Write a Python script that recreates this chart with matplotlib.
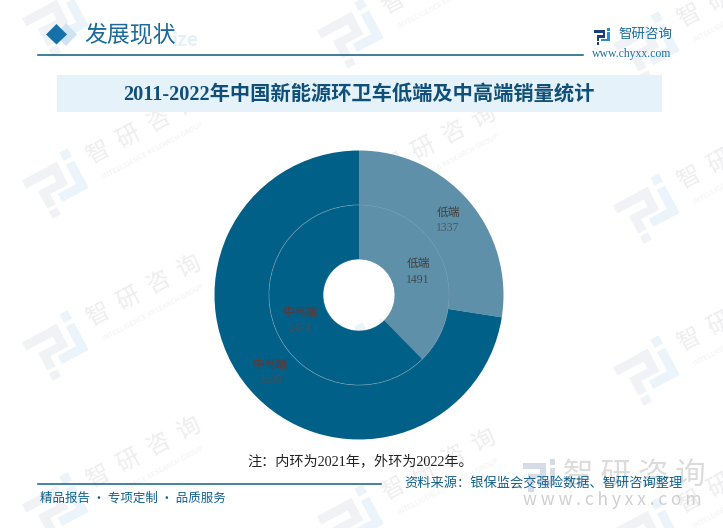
import matplotlib
matplotlib.use("Agg")
import matplotlib.pyplot as plt
from matplotlib.patches import Polygon, Rectangle
from matplotlib.transforms import Affine2D

plt.rcParams["font.family"] = ["Noto Sans CJK SC", "DejaVu Sans"]
SERIF = ["Liberation Serif", "Noto Sans CJK SC"]

# values
inner_labels = ["低端", "中高端"]
inner_values = [1491, 2471]
outer_labels = ["低端", "中高端"]
outer_values = [1337, 3530]

colors = ["#5f90a9", "#006088"]
W, H = 723, 528
cx, cy = 359, H - 295


def flip(y):
    return H - y


def logo(ax, x, y, grey="#f0f2f6", blue="#ebf4fa", angle=28, scale=1.0, z=0):
    # brand mark made of a few strokes, local coords in px around (x, y)
    grey_parts = [(-27, -14, 34, 8), (-1, -14, 8, 22), (-19, 1, 20, 7), (-19, 1, 8, 17), (-19, 21, 8, 7)]
    blue_parts = [(13, -20, 8, 8), (13, -8, 8, 26), (-5, 11, 26, 8)]
    tr = Affine2D().scale(scale).rotate_deg(angle).translate(x, flip(y)) + ax.transData
    for parts, col in [(grey_parts, grey), (blue_parts, blue)]:
        for px, py, w, h in parts:
            r = Rectangle((px, -py - h), w, h, fc=col, ec="none", zorder=z, transform=tr)
            ax.add_patch(r)


fig = plt.figure(figsize=(W / 100, H / 100), dpi=100)
ax = fig.add_axes([0, 0, 1, 1])

# faint watermark behind everything
for col_x, rows in [(57, [18, 180, 342, 504]), (352, [30, 192, 354, 516]), (648, [43, 205, 367, 529])]:
    for row_y in rows:
        logo(ax, col_x, row_y, scale=1.15)
        if row_y - 50 > -25:
            ax.text(col_x + 88, flip(row_y - 50), "智  研  咨  询", fontsize=17, color="#eeeef0", rotation=28,
                    ha="center", va="center", zorder=0, clip_on=True)
            ax.text(col_x + 96, flip(row_y - 29), "INTELLIGENCE RESEARCH GROUP", fontsize=5.2, color="#f1f1f3",
                    rotation=28, ha="center", va="center", zorder=0, clip_on=True)

# outer ring then inner ring, clockwise from the top
ax.pie(outer_values, colors=colors, radius=144.5, center=(cx, cy), startangle=90, counterclock=False,
       frame=True, wedgeprops=dict(width=144.5 - 90, linewidth=0))
ax.pie(inner_values, colors=colors, radius=90, center=(cx, cy), startangle=90, counterclock=False,
       frame=True, wedgeprops=dict(width=90 - 36, edgecolor="#6c9ab2", linewidth=0.6))
# cover seam between inner slices with slice colours
ax.pie(inner_values, colors=colors, radius=89.5, center=(cx, cy), startangle=90, counterclock=False,
       frame=True, wedgeprops=dict(width=89.5 - 36, linewidth=0))

ax.set_xlim(0, W)
ax.set_ylim(0, H)
ax.axis("off")

# slice labels
ax.text(448, flip(212), outer_labels[0], fontsize=8.5, color="#404040", ha="center", va="center")
ax.text(448, flip(228), str(outer_values[0]), fontsize=8.5, color="#505a60", family=SERIF, ha="center", va="center")
ax.text(418, flip(263), inner_labels[0], fontsize=8.5, color="#404040", ha="center", va="center")
ax.text(418, flip(280), str(inner_values[0]), fontsize=8.5, color="#404a50", family=SERIF, ha="center", va="center")
ax.text(300, flip(312), inner_labels[1], fontsize=8.5, color="#5a3a3a", ha="center", va="center")
ax.text(300, flip(328), str(inner_values[1]), fontsize=8.5, color="#44505a", family=SERIF, ha="center", va="center")
ax.text(270, flip(364), outer_labels[1], fontsize=8.5, color="#5a3a3a", ha="center", va="center")
ax.text(270, flip(380), str(outer_values[1]), fontsize=8.5, color="#44505a", family=SERIF, ha="center", va="center")

# header
ax.add_patch(Polygon([(66, flip(23)), (77, flip(34.5)), (66, flip(46)), (55, flip(34.5))], fc="#cfe3f0", ec="none"))
ax.add_patch(Polygon([(56.5, flip(24)), (67, flip(34.5)), (56.5, flip(44.5)), (46, flip(34.5))], fc="#1670a8", ec="none"))
ax.text(172, flip(40), "ize", fontsize=14, color="#e4f1f9", weight="bold", ha="left", va="center", zorder=0.5)
ax.text(84, flip(35), "发展现状", fontsize=16.5, color="#1a6a9a", ha="left", va="center", zorder=2)
ax.plot([38, 583], [flip(55), flip(55)], color="#0f5a80", lw=1.1)
logo(ax, 603, 35, grey="#1b3f7a", blue="#2a8fd0", angle=0, scale=0.34, z=2)
ax.text(618, flip(34), "智研咨询", fontsize=9.7, color="#1f6f9f", ha="left", va="center")
ax.text(632, flip(54), "www.chyxx.com", fontsize=8.5, color="#1f6f9f", family=SERIF,
        ha="center", va="center")

# title band
ax.add_patch(Rectangle((57, flip(112)), 605, 37, fc="#e5f2fa", ec="none", zorder=1))
ax.text(359, flip(96), "2011-2022年中国新能源环卫车低端及中高端销量统计", fontsize=14.6, color="#0f4f78",
        weight="bold", family=SERIF, ha="center", va="center", zorder=2)

# footer
logo(ax, 541, 473, grey="#d5dce6", blue="#d5dce6", angle=0, scale=0.68, z=1)
ax.text(634, flip(475), "智 研 咨 询", fontsize=22, color="#dcdcdc", ha="center", va="center", zorder=1)
ax.text(612, flip(500), "w w w . c h y x x . c o m", fontsize=12.5, color="#cfcfcf", ha="center", va="center", zorder=1)
ax.text(360, flip(461), "注：内环为2021年，外环为2022年。", fontsize=10.2, color="#222222", family=SERIF, ha="center", va="center")
ax.plot([38, 381], [flip(484), flip(484)], color="#10608f", lw=1.1)
ax.text(40, flip(498), "精品报告 · 专项定制 · 品质服务", fontsize=9, color="#10608f", ha="left", va="center")
ax.text(683, flip(484), "资料来源：银保监会交强险数据、智研咨询整理", fontsize=9.5, color="#10608f", ha="right", va="center", zorder=3)

fig.savefig("out.png", dpi=100)
